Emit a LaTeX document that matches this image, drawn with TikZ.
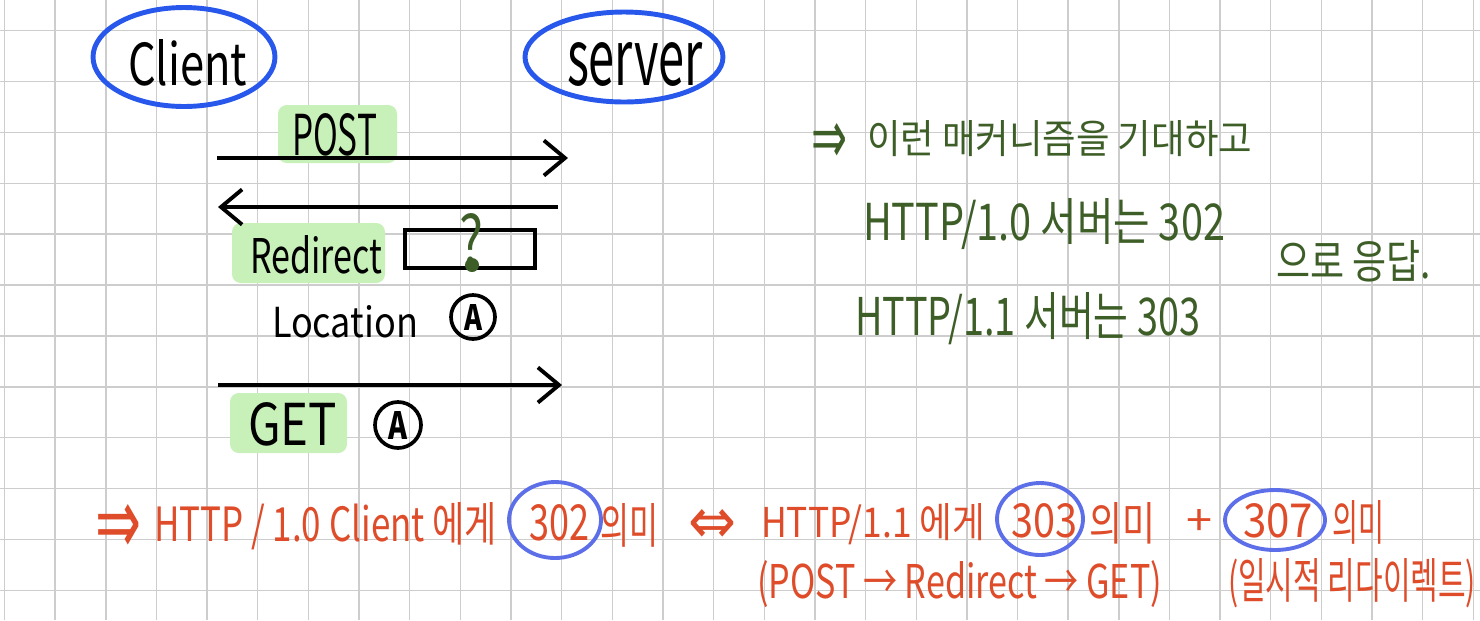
\documentclass[tikz,border=0pt]{standalone}
\usepackage{fontspec}
\usepackage{graphicx}
\setmainfont{Noto Sans CJK KR}
\newfontfamily\dvs{DejaVu Sans}
\usetikzlibrary{arrows.meta,shapes.geometric}
\newlength\px \setlength\px{0.02cm}
\newcommand\hw[3]{\resizebox{#1\px}{#2\px}{#3}}
\definecolor{gridc}{RGB}{205,205,205}
\definecolor{eblue}{RGB}{40,88,235}
\definecolor{cblue}{RGB}{92,110,232}
\definecolor{hlg}{RGB}{200,240,185}
\definecolor{dgreen}{RGB}{62,94,40}
\definecolor{rorange}{RGB}{222,76,42}
\begin{document}
\begin{tikzpicture}[x=0.02cm,y=-0.02cm,
  txt/.style={inner sep=0,outer sep=0,anchor=base west},
  ctxt/.style={inner sep=0,outer sep=0,anchor=center},
  gridline/.style={gridc,line width=0.8pt},
  bigell/.style={ellipse,draw=eblue,line width=2.8pt,inner sep=0},
  smallell/.style={ellipse,draw=cblue,line width=2.2pt,inner sep=0},
  hilite/.style={fill=hlg,rounded corners=5pt},
  msg/.style={line width=2.2pt,-{Straight Barb[length=12pt,width=20pt]}},
  circA/.style={circle,draw,line width=2.1pt,inner sep=0}]
\useasboundingbox (0,0) rectangle (1480,620);
\fill[white] (0,0) rectangle (1480,620);
% grid
\foreach \i in {0,...,29} \draw[gridline] ({4.5+50.65*\i},0) -- ({4.5+50.65*\i},620);
\foreach \j in {0,...,11} \draw[gridline] (0,{30.5+50.9*\j}) -- (1480,{30.5+50.9*\j});
% ellipses
\node[bigell,minimum width=3.64cm,minimum height=1.98cm] (clientE) at (184,57) {};
\node[bigell,minimum width=3.96cm,minimum height=1.80cm] (serverE) at (624,57) {};
\node[txt] (client) at (128,85) {\hw{119}{46}{Client}};
\node[txt] (server) at (567,85) {\hw{136}{43}{server}};
% highlights
\fill[hilite] (278,105) rectangle (397,163);
\fill[hilite] (232,223) rectangle (385,283);
\fill[hilite] (230,393) rectangle (347,453);
% messages
\node[txt] (post) at (292,155) {\hw{85}{42}{POST}};
\coordinate (a1s) at (217,158); \coordinate (a1e) at (568,158);
\draw[msg] (a1s) -- (a1e);
\coordinate (a2s) at (558,207); \coordinate (a2e) at (218,207);
\draw[msg] (a2s) -- (a2e);
\node[txt] (redirect) at (250,273) {\hw{132}{38}{Redirect}};
\node[draw,line width=2.2pt,minimum width=2.6cm,minimum height=0.76cm,inner sep=0] (locbox) at (470,249) {};
\node[ctxt,dgreen] (qmark) at (471,240) {\hw{24}{52}{?}};
\node[circle,fill=dgreen,minimum size=0.28cm,inner sep=0] (qdot) at (472,265) {};
\node[txt] (location) at (272,337) {\hw{146}{32}{Location}};
\node[circA,minimum size=0.88cm] (locA) at (473,317) {\hw{18}{26}{\bfseries A}};
\coordinate (a3s) at (218,385); \coordinate (a3e) at (562,385);
\draw[msg] (a3s) -- (a3e);
\node[txt] (get) at (248,445) {\hw{89}{43}{GET}};
\node[circA,minimum size=0.92cm] (getA) at (398,425) {\hw{19}{28}{\bfseries A}};
% right notes
\node[ctxt,dgreen] (garrow) at (829,143) {\hw{36}{40}{\dvs ⇒}};
\node[txt,dgreen] (g1) at (867,153) {\hw{385}{33}{이런 매커니즘을 기대하고}};
\node[txt,dgreen] (g2) at (863,240) {\hw{362}{42}{HTTP/1.0 서버는 302}};
\node[txt,dgreen] (g3) at (1276,278) {\hw{155}{38}{으로 응답.}};
\node[txt,dgreen] (g4) at (855,335) {\hw{345}{43}{HTTP/1.1 서버는 303}};
% bottom line
\node[ctxt,rorange] (rarrow) at (118,529) {\hw{46}{50}{\dvs ⇒}};
\node[txt,rorange] (r1) at (154,541) {\hw{343}{39}{HTTP / 1.0 Client 에게}};
\node[smallell,minimum width=1.84cm,minimum height=1.52cm] (c302) at (555,520) {};
\node[txt,rorange] (r302) at (529,540) {\hw{60}{36}{302}};
\node[txt,rorange] (r2) at (600,543) {\hw{58}{40}{의미}};
\node[ctxt,rorange] (riff) at (712,526) {\hw{48}{34}{\dvs ⇔}};
\node[txt,rorange] (r3) at (761,537) {\hw{224}{34}{HTTP/1.1 에게}};
\node[smallell,minimum width=1.72cm,minimum height=1.44cm] (c303) at (1040,519) {};
\node[txt,rorange] (r303) at (1011,537) {\hw{66}{34}{303}};
\node[txt,rorange] (r4) at (1089,540) {\hw{66}{38}{의미}};
\node[ctxt,rorange] (rplus) at (1199,522) {\hw{26}{26}{+}};
\node[smallell,minimum width=2.0cm,minimum height=1.2cm] (c307) at (1275,520) {};
\node[txt,rorange] (r307) at (1243,537) {\hw{70}{34}{307}};
\node[txt,rorange] (r5) at (1332,540) {\hw{52}{40}{의미}};
\node[txt,rorange] (r6) at (757,598) {\hw{405}{38}{(POST → Redirect → GET)}};
\node[txt,rorange] (r7) at (1228,598) {\hw{248}{40}{(일시적 리다이렉트)}};
\end{tikzpicture}
\end{document}
